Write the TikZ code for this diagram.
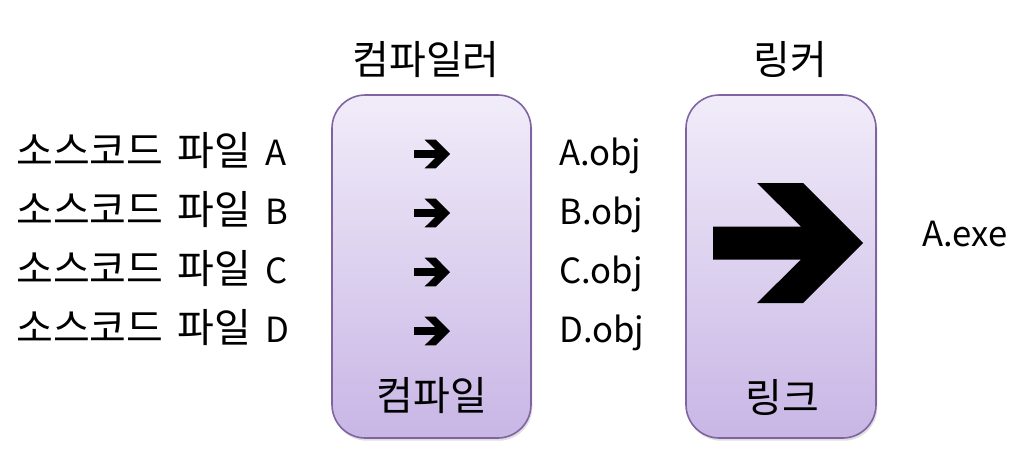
\documentclass[tikz,border=0pt]{standalone}
\usepackage{fontspec}
\setmainfont{Noto Sans CJK KR}
\usetikzlibrary{shadows}

\definecolor{boxtop}{RGB}{241,236,249}
\definecolor{boxbot}{RGB}{200,182,229}
\definecolor{boxline}{RGB}{128,100,162}

\newcommand\krtext{\fontsize{30}{34}\selectfont\spaceskip=0.36em\relax}
\newcommand\lattext{\fontsize{26}{30}\selectfont}

\tikzset{
  stagebox/.style={draw=boxline, line width=1.2pt, top color=boxtop, bottom color=boxbot,
                   rounded corners=25pt, drop shadow={opacity=0.25, shadow xshift=1pt, shadow yshift=-2pt}},
  txt/.style={font=\krtext, inner sep=0pt},
  filetxt/.style={font=\lattext, inner sep=0pt, anchor=base west},
  fatarrow/.pic={
    \fill[black] (-75,-16.5) -- (13,-16.5) -- (-31,-60) -- (15,-60) -- (75,0)
      -- (15,60) -- (-31,60) -- (13,16.5) -- (-75,16.5) -- cycle;
  }
}

\begin{document}
\begin{tikzpicture}[x=0.75pt, y=-0.75pt]
  \useasboundingbox (0,0) rectangle (1035,454);

  % stages
  \draw[stagebox] (332,95) rectangle (531,438);
  \draw[stagebox] (686,95) rectangle (876,438);
  \node[txt] (compiler) at (426,60) {컴파일러};
  \node[txt] (linker) at (790,60) {링커};
  \node[txt] (compile) at (432,396) {컴파일};
  \node[txt] (link) at (782,397) {링크};

  % source files and objects
  \foreach \f [count=\i from 0] in {A,B,C,D} {
    \node[txt, anchor=base west] (src-\f) at (16,165+59*\i) {소스코드 파일 {\lattext\f}};
    \pic[scale=0.24] at (432,154+59*\i) {fatarrow};
    \node[filetxt] (obj-\f) at (559,165+59*\i) {\f.obj};
  }

  % linking
  \pic at (788,243) {fatarrow};
  \node[filetxt] (exe) at (922,246) {A.exe};
\end{tikzpicture}
\end{document}
